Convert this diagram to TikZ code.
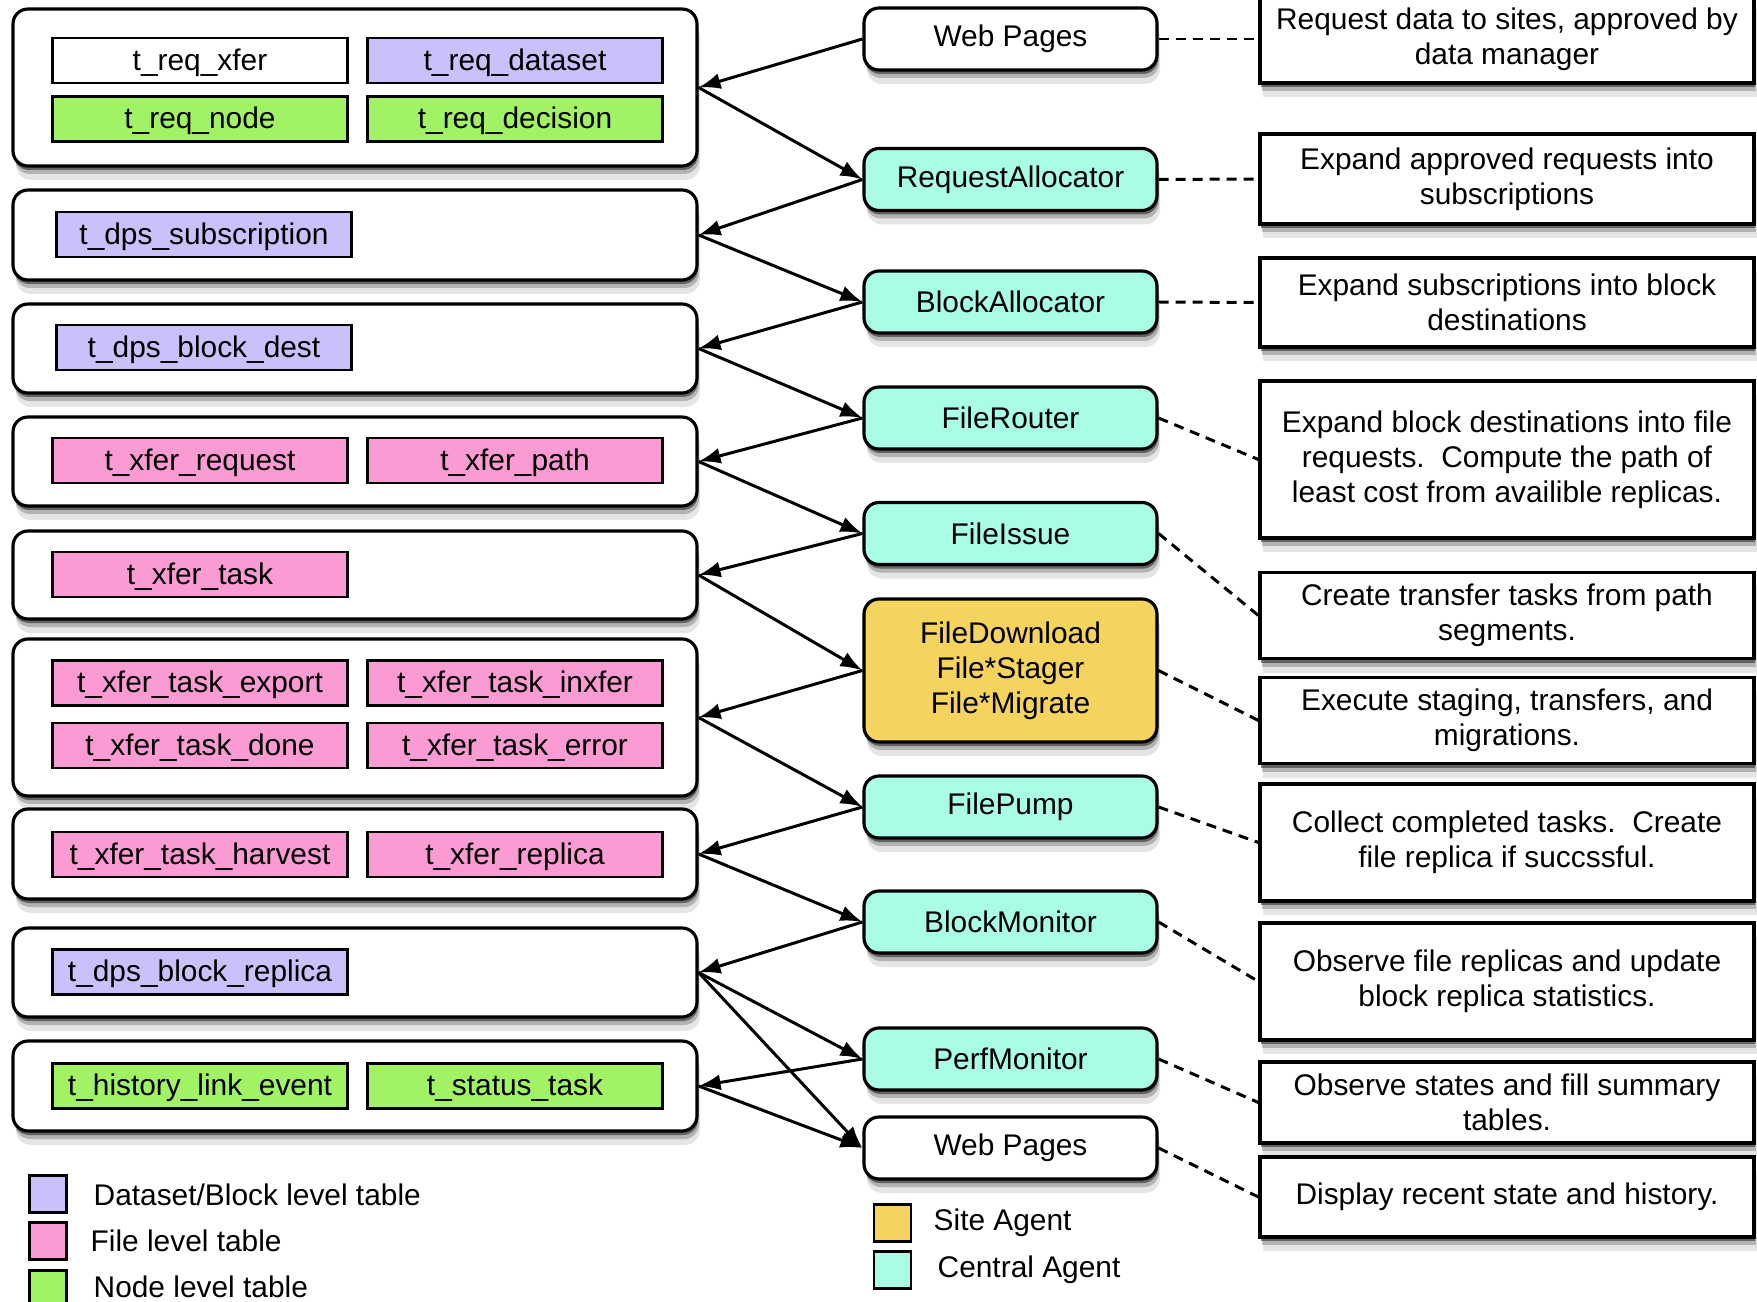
\documentclass[tikz,border=0pt]{standalone}
\usepackage{fontspec}
\setmainfont{Liberation Sans}
\usepackage{color}
\usetikzlibrary{arrows.meta,shadows}

\definecolor{dsblock}{HTML}{CCC0FA}
\definecolor{filelvl}{HTML}{FB9BD3}
\definecolor{nodelvl}{HTML}{A2F266}
\definecolor{central}{HTML}{A9FCE6}
\definecolor{siteag}{HTML}{F4D35E}

\begin{document}
\begin{tikzpicture}[
  font=\fontsize{8.5}{10}\selectfont,
  shadowed/.style={
    general shadow={fill=black, opacity=0.45, shadow xshift=0.01cm, shadow yshift=-0.04cm},
    general shadow={fill=black, opacity=0.22, shadow xshift=0.02cm, shadow yshift=-0.08cm},
    general shadow={fill=black, opacity=0.10, shadow xshift=0.03cm, shadow yshift=-0.14cm}},
  grp/.style={draw, line width=0.9pt, rounded corners=0.15cm, fill=white, minimum width=6.84cm, shadowed},
  tbl/.style={draw, line width=0.7pt, minimum width=2.95cm, minimum height=0.45cm, inner sep=0pt, text depth=0.02cm},
  agent/.style={draw, line width=0.9pt, rounded corners=0.15cm, minimum width=2.93cm, minimum height=0.62cm, align=center, shadowed},
  desc/.style={draw, line width=0.9pt, fill=white, minimum width=4.94cm, align=center, shadowed},
  swatch/.style={draw, line width=0.8pt, minimum width=0.37cm, minimum height=0.37cm, inner sep=0pt},
  link/.style={-{Latex[length=0.22cm,width=0.16cm]}, line width=0.85pt},
  note/.style={line width=0.85pt, dash pattern=on 0.1cm off 0.07cm},
]
\useasboundingbox (0,0) rectangle (17.57,-13.02);

% table groups
\node[grp, minimum height=1.57cm] (g1) at (3.55,-0.875) {};
\node[grp, minimum height=0.90cm] (g2) at (3.55,-2.35) {};
\node[grp, minimum height=0.89cm] (g3) at (3.55,-3.485) {};
\node[grp, minimum height=0.89cm] (g4) at (3.55,-4.615) {};
\node[grp, minimum height=0.88cm] (g5) at (3.55,-5.75) {};
\node[grp, minimum height=1.57cm] (g6) at (3.55,-7.175) {};
\node[grp, minimum height=0.90cm] (g7) at (3.55,-8.54) {};
\node[grp, minimum height=0.89cm] (g8) at (3.55,-9.725) {};
\node[grp, minimum height=0.90cm] (g9) at (3.55,-10.86) {};

% tables
\node[tbl, fill=white] (reqxfer) at (2.00,-0.605) {t\_req\_xfer};
\node[tbl, fill=dsblock] (reqdataset) at (5.15,-0.605) {t\_req\_dataset};
\node[tbl, fill=nodelvl] (reqnode) at (2.00,-1.19) {t\_req\_node};
\node[tbl, fill=nodelvl] (reqdecision) at (5.15,-1.19) {t\_req\_decision};
\node[tbl, fill=dsblock] (subscr) at (2.04,-2.345) {t\_dps\_subscription};
\node[tbl, fill=dsblock] (blockdest) at (2.04,-3.475) {t\_dps\_block\_dest};
\node[tbl, fill=filelvl] (xferreq) at (2.00,-4.605) {t\_xfer\_request};
\node[tbl, fill=filelvl] (xferpath) at (5.15,-4.605) {t\_xfer\_path};
\node[tbl, fill=filelvl] (xfertask) at (2.00,-5.745) {t\_xfer\_task};
\node[tbl, fill=filelvl] (taskexport) at (2.00,-6.83) {t\_xfer\_task\_export};
\node[tbl, fill=filelvl] (taskinxfer) at (5.15,-6.83) {t\_xfer\_task\_inxfer};
\node[tbl, fill=filelvl] (taskdone) at (2.00,-7.455) {t\_xfer\_task\_done};
\node[tbl, fill=filelvl] (taskerror) at (5.15,-7.455) {t\_xfer\_task\_error};
\node[tbl, fill=filelvl] (taskharvest) at (2.00,-8.545) {t\_xfer\_task\_harvest};
\node[tbl, fill=filelvl] (xferreplica) at (5.15,-8.545) {t\_xfer\_replica};
\node[tbl, fill=dsblock] (blockreplica) at (2.00,-9.72) {t\_dps\_block\_replica};
\node[tbl, fill=nodelvl] (linkevent) at (2.00,-10.86) {t\_history\_link\_event};
\node[tbl, fill=nodelvl] (statustask) at (5.15,-10.86) {t\_status\_task};

% agents
\node[agent, fill=white] (web1) at (10.105,-0.39) {Web Pages};
\node[agent, fill=central] (reqalloc) at (10.105,-1.795) {RequestAllocator};
\node[agent, fill=central] (blkalloc) at (10.105,-3.02) {BlockAllocator};
\node[agent, fill=central] (router) at (10.105,-4.18) {FileRouter};
\node[agent, fill=central] (issue) at (10.105,-5.335) {FileIssue};
\node[agent, fill=siteag, minimum height=1.43cm] (download) at (10.105,-6.705) {FileDownload\\File*Stager\\File*Migrate};
\node[agent, fill=central] (pump) at (10.105,-8.07) {FilePump};
\node[agent, fill=central] (blkmon) at (10.105,-9.22) {BlockMonitor};
\node[agent, fill=central] (perfmon) at (10.105,-10.59) {PerfMonitor};
\node[agent, fill=white] (web2) at (10.105,-11.48) {Web Pages};

% descriptions
\node[desc, minimum height=0.88cm] (d1) at (15.07,-0.39) {Request data to sites, approved by\\data manager};
\node[desc, minimum height=0.90cm] (d2) at (15.07,-1.79) {Expand approved requests into\\subscriptions};
\node[desc, minimum height=0.89cm] (d3) at (15.07,-3.025) {Expand subscriptions into block\\destinations};
\node[desc, minimum height=1.57cm] (d4) at (15.07,-4.595) {Expand block destinations into file\\requests.\ \ Compute the path of\\least cost from availible replicas.};
\node[desc, minimum height=0.83cm] (d5) at (15.07,-6.155) {Create transfer tasks from path\\segments.};
\node[desc, minimum height=0.83cm] (d6) at (15.07,-7.205) {Execute staging, transfers, and\\migrations.};
\node[desc, minimum height=1.17cm] (d7) at (15.07,-8.425) {Collect completed tasks.\ \ Create\\file replica if succssful.};
\node[desc, minimum height=1.17cm] (d8) at (15.07,-9.815) {Observe file replicas and update\\block replica statistics.};
\node[desc, minimum height=0.81cm] (d9) at (15.07,-11.025) {Observe states and fill summary\\tables.};
\node[desc, minimum height=0.80cm] (d10) at (15.07,-11.97) {Display recent state and history.};

% agents read and write the tables
\draw[link] (web1.west) -- (g1.east);
\draw[link] (g1.east) -- (reqalloc.west);
\draw[link] (reqalloc.west) -- (g2.east);
\draw[link] (g2.east) -- (blkalloc.west);
\draw[link] (blkalloc.west) -- (g3.east);
\draw[link] (g3.east) -- (router.west);
\draw[link] (router.west) -- (g4.east);
\draw[link] (g4.east) -- (issue.west);
\draw[link] (issue.west) -- (g5.east);
\draw[link] (g5.east) -- (download.west);
\draw[link] (download.west) -- (g6.east);
\draw[link] (g6.east) -- (pump.west);
\draw[link] (pump.west) -- (g7.east);
\draw[link] (g7.east) -- (blkmon.west);
\draw[link] (blkmon.west) -- (g8.east);
\draw[link] (g8.east) -- (perfmon.west);
\draw[link] (g8.east) -- (web2.west);
\draw[link] (perfmon.west) -- (g9.east);
\draw[link] (g9.east) -- (web2.west);

% agent notes
\draw[note] (web1.east) -- (d1.west);
\draw[note] (reqalloc.east) -- (d2.west);
\draw[note] (blkalloc.east) -- (d3.west);
\draw[note] (router.east) -- (d4.west);
\draw[note] (issue.east) -- (d5.west);
\draw[note] (download.east) -- (d6.west);
\draw[note] (pump.east) -- (d7.west);
\draw[note] (blkmon.east) -- (d8.west);
\draw[note] (perfmon.east) -- (d9.west);
\draw[note] (web2.east) -- (d10.west);

% legend
\node[swatch, fill=dsblock] (kds) at (0.48,-11.94) {};
\node[swatch, fill=filelvl] (kfile) at (0.48,-12.41) {};
\node[swatch, fill=nodelvl] (knode) at (0.48,-12.89) {};
\node[anchor=west, inner sep=0pt] (kdstext) at (0.93,-11.95) {Dataset/Block level table};
\node[anchor=west, inner sep=0pt] (kfiletext) at (0.90,-12.41) {File level table};
\node[anchor=west, inner sep=0pt] (knodetext) at (0.93,-12.87) {Node level table};
\node[swatch, fill=siteag] (ksite) at (8.925,-12.23) {};
\node[swatch, fill=central] (kcentral) at (8.925,-12.70) {};
\node[anchor=west, inner sep=0pt] (ksitetext) at (9.33,-12.23) {Site Agent};
\node[anchor=west, inner sep=0pt] (kcentraltext) at (9.37,-12.70) {Central Agent};
\end{tikzpicture}
\end{document}
